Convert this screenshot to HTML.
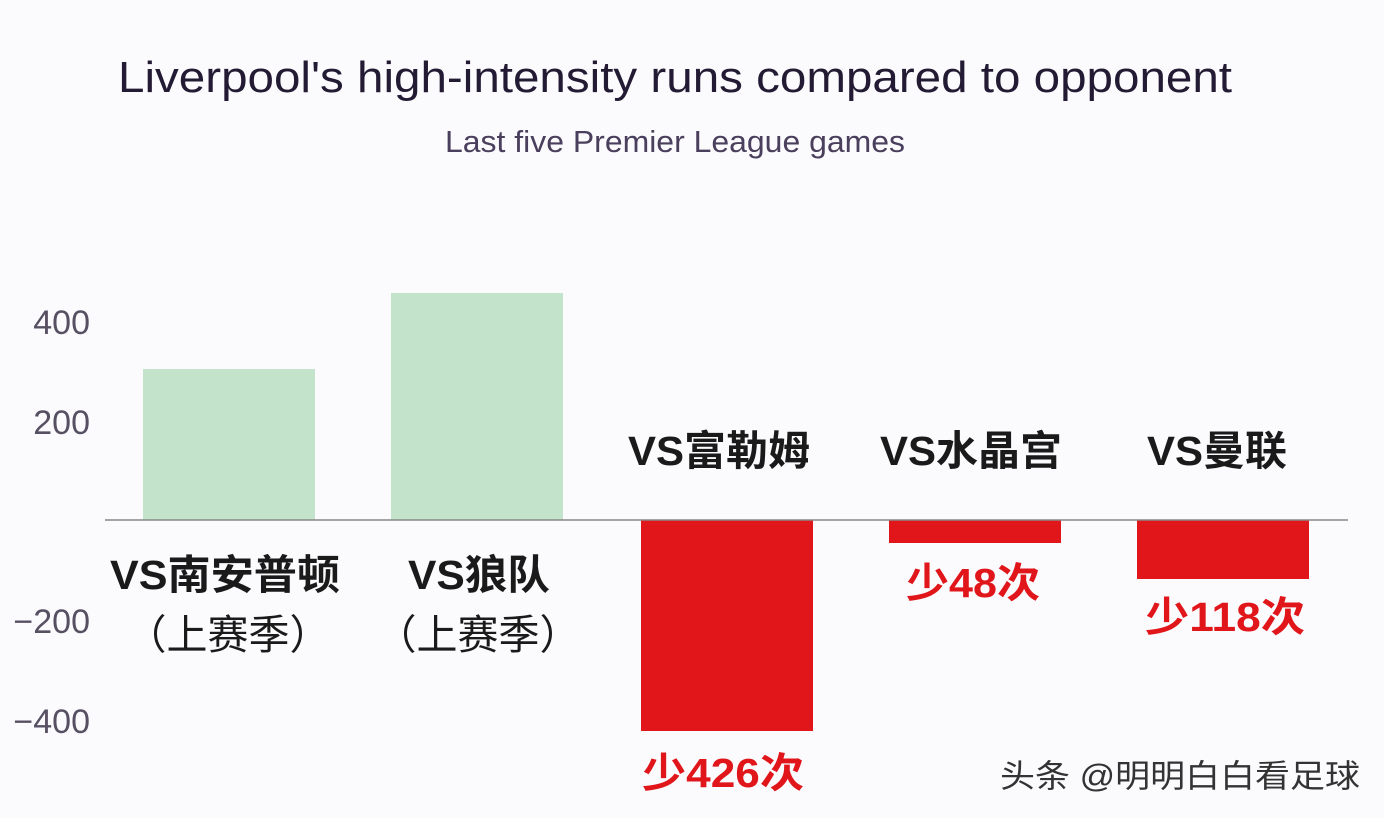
<!DOCTYPE html>
<html><head><meta charset="utf-8"><style>
body{margin:0;background:#fbfbfd;}
svg{display:block}
</style></head><body>
<svg width="1384" height="818" viewBox="0 0 1384 818" xmlns="http://www.w3.org/2000/svg">
<rect width="1384" height="818" fill="#fbfbfd"/>
<text x="118" y="92" textLength="1114" lengthAdjust="spacingAndGlyphs" font-family="Liberation Sans, DejaVu Sans, sans-serif" font-size="44" fill="#231a33">Liverpool's high-intensity runs compared to opponent</text>
<text x="445" y="152" textLength="460" lengthAdjust="spacingAndGlyphs" font-family="Liberation Sans, DejaVu Sans, sans-serif" font-size="31" fill="#4a3f5c">Last five Premier League games</text>
<g font-family="Liberation Sans, sans-serif" font-size="34" fill="#574f62" text-anchor="end">
<text x="90" y="334">400</text>
<text x="90" y="434">200</text>
<text x="90" y="633">−200</text>
<text x="90" y="733">−400</text>
</g>
<rect x="143" y="369" width="172" height="151" fill="#c3e3cb"/>
<rect x="391" y="293" width="172" height="227" fill="#c3e3cb"/>
<rect x="641" y="520" width="172" height="211" fill="#e0161b"/>
<rect x="889" y="520" width="172" height="23" fill="#e0161b"/>
<rect x="1137" y="520" width="172" height="59" fill="#e0161b"/>
<line x1="105" y1="520" x2="1348" y2="520" stroke="#888" stroke-width="1.5"/>
<g font-family="Liberation Sans, Noto Sans CJK SC, sans-serif" font-size="41" font-weight="bold" fill="#1a1a1a">
<text x="628" y="465" textLength="182" lengthAdjust="spacingAndGlyphs">VS富勒姆</text>
<text x="880" y="465" textLength="182" lengthAdjust="spacingAndGlyphs">VS水晶宫</text>
<text x="1147" y="465" textLength="140" lengthAdjust="spacingAndGlyphs">VS曼联</text>
<text x="110" y="589" textLength="230" lengthAdjust="spacingAndGlyphs">VS南安普顿</text>
<text x="408" y="589" textLength="142" lengthAdjust="spacingAndGlyphs">VS狼队</text>
</g>
<g font-family="Liberation Sans, Noto Sans CJK SC, sans-serif" font-size="41" text-anchor="middle" fill="#1a1a1a">
<text x="228" y="649">（上赛季）</text>
<text x="478" y="649">（上赛季）</text>
</g>
<g font-family="Liberation Sans, Noto Sans CJK SC, sans-serif" font-size="41" font-weight="bold" fill="#e0161b">
<text x="906" y="597" textLength="134" lengthAdjust="spacingAndGlyphs">少48次</text>
<text x="1145" y="631" textLength="160" lengthAdjust="spacingAndGlyphs">少118次</text>
<text x="642" y="787" textLength="162" lengthAdjust="spacingAndGlyphs">少426次</text>
</g>
<text x="1000" y="787" textLength="360" lengthAdjust="spacingAndGlyphs" font-family="Liberation Sans, Noto Sans CJK SC, sans-serif" font-size="32" fill="#333">头条 @明明白白看足球</text>
</svg>
</body></html>
